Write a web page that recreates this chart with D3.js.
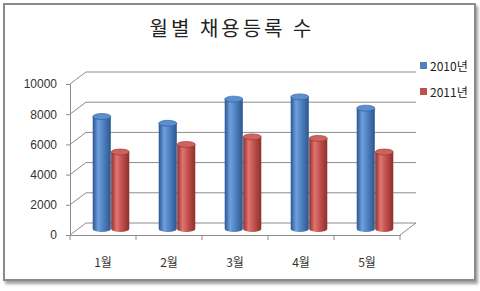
<!DOCTYPE html>
<html>
<head>
<meta charset="utf-8">
<script src="https://cdn.jsdelivr.net/npm/d3@7"></script>
<style>
  body { margin: 0; background: #fff; }
  text { font-family: "Noto Sans CJK KR", "DejaVu Sans", sans-serif; }
</style>
</head>
<body>
<script>
// chart data
const months = ["1월", "2월", "3월", "4월", "5월"];
const seriesNames = ["2010년", "2011년"];
const values2010 = [7450, 7000, 8600, 8750, 8000];
const values2011 = [5100, 5600, 6100, 6000, 5100];
const yTicks = [0, 2000, 4000, 6000, 8000, 10000];

const colors = {
    "2010년": { light: "#6e9fe0", mid: "#4f81bd", dark: "#2b568f", top: "#5c8ed2" },
    "2011년": { light: "#e07571", mid: "#c0504d", dark: "#8e2f2c", top: "#d0625e" }
};

const width = 480,
    height = 291;
// fake 3d depth of the plot box
const depthX = 16,
    depthY = -12;

const svg = d3.select("body")
    .append("svg")
    .attr("width", width)
    .attr("height", height);

const defs = svg.append("defs");

defs.append("filter")
    .attr("id", "shadow")
    .attr("x", "-5%").attr("y", "-5%")
    .attr("width", "115%").attr("height", "115%")
    .append("feDropShadow")
    .attr("dx", 2).attr("dy", 3)
    .attr("stdDeviation", 1.6)
    .attr("flood-color", "#777")
    .attr("flood-opacity", 0.7);

seriesNames.forEach((s, i) => {
    const c = colors[s];
    const g = defs.append("linearGradient")
        .attr("id", "body" + i)
        .attr("x1", "0%").attr("x2", "100%")
        .attr("y1", "0%").attr("y2", "0%");
    g.append("stop").attr("offset", "0%").attr("stop-color", c.dark);
    g.append("stop").attr("offset", "30%").attr("stop-color", c.light);
    g.append("stop").attr("offset", "60%").attr("stop-color", c.mid);
    g.append("stop").attr("offset", "100%").attr("stop-color", c.dark);
});

// frame
svg.append("rect")
    .attr("x", 4)
    .attr("y", 4)
    .attr("width", 471)
    .attr("height", 276)
    .attr("fill", "#fff")
    .attr("stroke", "#8a8a8a")
    .attr("stroke-width", 2)
    .attr("filter", "url(#shadow)");

svg.append("text")
    .attr("x", 232)
    .attr("y", 36)
    .attr("text-anchor", "middle")
    .attr("font-size", 20)
    .attr("letter-spacing", 3)
    .attr("fill", "#222")
    .text("월별 채용등록 수");

// scales
const x = d3.scaleBand()
    .domain(months)
    .range([70, 400]);

const x1 = d3.scaleBand()
    .domain(seriesNames)
    .range([x.bandwidth() * 0.22, x.bandwidth() * 0.78]);

const y = d3.scaleLinear()
    .domain([0, 10000])
    .range([235, 84]);

const gridColor = "#8c8c8c";

// side wall + back wall gridlines
svg.append("g")
    .selectAll("path")
    .data(yTicks)
    .enter()
    .append("path")
    .attr("d", d => "M" + x.range()[0] + "," + y(d) +
        "L" + (x.range()[0] + depthX) + "," + (y(d) + depthY) +
        "L" + (x.range()[1] + depthX) + "," + (y(d) + depthY))
    .attr("fill", "none")
    .attr("stroke", gridColor)
    .attr("stroke-width", 1);

// y axis (front edge)
const yAxis = d3.axisLeft(y)
    .tickValues(yTicks)
    .tickFormat(d3.format("d"))
    .tickSize(4)
    .tickPadding(9);

const yG = svg.append("g")
    .attr("transform", "translate(70,0)")
    .call(yAxis);
yG.select(".domain").attr("stroke", gridColor);
yG.selectAll(".tick line").attr("stroke", gridColor);
yG.selectAll(".tick text")
    .attr("font-size", 12)
    .attr("fill", "#333")
    .style("font-family", "'Liberation Sans', Arial, sans-serif");

// floor right side
svg.append("path")
    .attr("d", "M" + x.range()[1] + "," + y(0) +
        "L" + (x.range()[1] + depthX) + "," + (y(0) + depthY))
    .attr("fill", "none")
    .attr("stroke", gridColor);

const xAxis = d3.axisBottom(x)
    .tickSize(0)
    .tickPadding(23);

const xG = svg.append("g")
    .attr("transform", "translate(0," + y(0) + ")")
    .call(xAxis);
xG.select(".domain").attr("stroke", gridColor);
xG.selectAll(".tick text")
    .attr("font-size", 12)
    .attr("fill", "#333");

// category separators
const bounds = months.map(m => x(m)).concat([x.range()[1]]);
svg.append("g")
    .selectAll("line")
    .data(bounds)
    .enter()
    .append("line")
    .attr("x1", d => d)
    .attr("x2", d => d)
    .attr("y1", y(0))
    .attr("y2", y(0) + 5)
    .attr("stroke", gridColor);

// cylinders
const rows = [];
months.forEach((m, i) => {
    rows.push({ month: m, series: seriesNames[0], idx: 0, value: values2010[i] });
    rows.push({ month: m, series: seriesNames[1], idx: 1, value: values2011[i] });
});

const ry = 3;
const bars = svg.append("g")
    .selectAll("g")
    .data(rows)
    .enter()
    .append("g");

function cylParts(d) {
    const rx = x1.bandwidth() / 2 - 0.2;
    const cx = x(d.month) + x1(d.series) + x1.bandwidth() / 2 + depthX / 2;
    const top = y(d.value) + depthY / 2;
    const bottom = y(0) + depthY / 2;
    return { rx, cx, top, bottom };
}

bars.append("path")
    .attr("d", d => {
        const p = cylParts(d);
        return "M" + (p.cx - p.rx) + "," + p.top +
            "L" + (p.cx - p.rx) + "," + p.bottom +
            "A" + p.rx + "," + ry + " 0 0 0 " + (p.cx + p.rx) + "," + p.bottom +
            "L" + (p.cx + p.rx) + "," + p.top + "Z";
    })
    .attr("fill", d => "url(#body" + d.idx + ")");

bars.append("ellipse")
    .attr("cx", d => cylParts(d).cx)
    .attr("cy", d => cylParts(d).top)
    .attr("rx", d => cylParts(d).rx)
    .attr("ry", ry)
    .attr("fill", d => colors[d.series].top)
    .attr("stroke", d => colors[d.series].dark)
    .attr("stroke-width", 0.6);

// legend
const legend = svg.append("g")
    .selectAll("g")
    .data(seriesNames)
    .enter()
    .append("g")
    .attr("transform", (d, i) => "translate(420," + (62 + i * 26) + ")");

legend.append("rect")
    .attr("width", 7)
    .attr("height", 7)
    .attr("fill", d => colors[d].mid);

legend.append("text")
    .attr("x", 10)
    .attr("y", 9)
    .attr("font-size", 12)
    .attr("fill", "#222")
    .text(d => d);
</script>
</body>
</html>
